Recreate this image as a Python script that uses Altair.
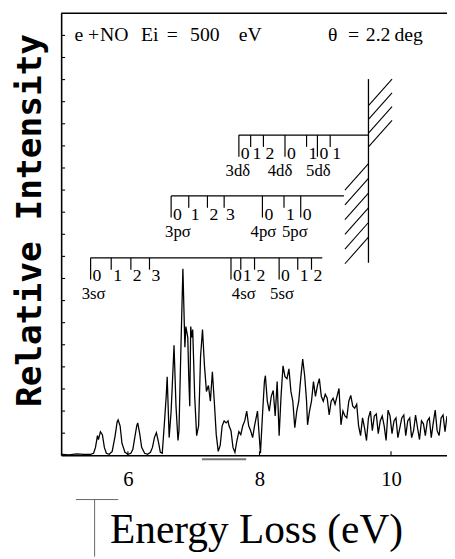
import altair as alt
import pandas as pd

# ---------------- data ----------------
energy = [
    5.000, 5.104, 5.224, 5.328, 5.433, 5.478, 5.507, 5.537, 5.552, 5.582,
    5.612, 5.642, 5.672, 5.716, 5.761, 5.806, 5.836, 5.851, 5.881, 5.910,
    5.955, 6.000, 6.045, 6.075, 6.104, 6.134, 6.149, 6.179, 6.209, 6.254,
    6.299, 6.343, 6.373, 6.403, 6.433, 6.463, 6.493, 6.522, 6.552, 6.582,
    6.597, 6.627, 6.657, 6.687, 6.701, 6.731, 6.761, 6.776, 6.806, 6.836,
    6.851, 6.866, 6.881, 6.910, 6.925, 6.940, 6.955, 6.970, 6.985, 7.015,
    7.045, 7.075, 7.104, 7.134, 7.164, 7.194, 7.224, 7.254, 7.284, 7.313,
    7.343, 7.373, 7.403, 7.433, 7.463, 7.493, 7.522, 7.537, 7.567, 7.597,
    7.627, 7.657, 7.687, 7.716, 7.746, 7.776, 7.806, 7.836, 7.866, 7.896,
    7.925, 7.970, 7.985, 8.015, 8.045, 8.075, 8.090, 8.119, 8.149, 8.179,
    8.209, 8.239, 8.269, 8.299, 8.328, 8.358, 8.388, 8.418, 8.448, 8.478,
    8.507, 8.537, 8.567, 8.597, 8.627, 8.657, 8.687, 8.716, 8.731, 8.761,
    8.791, 8.821, 8.851, 8.881, 8.910, 8.940, 8.970, 9.000, 9.030, 9.060,
    9.090, 9.119, 9.149, 9.179, 9.209, 9.239, 9.269, 9.299, 9.328, 9.358,
    9.388, 9.418, 9.448, 9.478, 9.507, 9.537, 9.567, 9.597, 9.627, 9.657,
    9.687, 9.716, 9.746, 9.776, 9.806, 9.836, 9.866, 9.896, 9.925, 9.955,
    9.985, 10.015, 10.045, 10.075, 10.104, 10.134, 10.164, 10.194, 10.224, 10.254,
    10.284, 10.313, 10.343, 10.373, 10.403, 10.433, 10.463, 10.493, 10.522, 10.552,
    10.582, 10.612, 10.642, 10.672, 10.701, 10.731, 10.761, 10.791, 10.821, 10.851,
]
intensity = [
    1, 0.5, 1.5, 1, 1, 2, 8, 20, 16, 24,
    21, 8, 2, 1, 4, 20, 34, 36, 30, 12,
    3, 1, 2, 6, 18, 30, 33, 22, 8, 2,
    1, 3, 8, 18, 23, 14, 3, 2, 30, 60,
    80, 18, 45, 90, 112, 50, 15, 25, 110, 190,
    150, 110, 131, 120, 80, 50, 131, 120, 128, 60,
    20, 30, 100, 128, 91, 65, 71, 55, 85, 55,
    21, 4, 10, 30, 35, 33, 35, 30, 25, 8,
    3, 15, 24, 21, 30, 35, 45, 30, 25, 18,
    30, 45, 30, 2, 40, 75, 81, 55, 45, 60,
    66, 40, 75, 20, 60, 91, 80, 78, 88, 65,
    55, 28, 45, 55, 78, 98, 81, 55, 31, 45,
    55, 75, 60, 71, 78, 60, 55, 62, 58, 41,
    55, 58, 52, 60, 68, 31, 45, 40, 38, 55,
    61, 50, 48, 52, 30, 20, 38, 28, 15, 38,
    45, 25, 40, 42, 22, 35, 40, 30, 15, 46,
    40, 22, 35, 38, 18, 28, 38, 41, 20, 35,
    38, 18, 25, 41, 28, 16, 35, 32, 20, 35,
    38, 18, 33, 46, 25, 20, 38, 41, 24, 40,
]

x_tick_values = [6, 8, 10]
x_minor_ticks = [6, 8, 10]
y_tick_values = [22.5, 45, 67.5, 90, 112.5, 135, 157.5, 180, 202.5, 225,
                 247.5, 270, 292.5, 315, 337.5, 360, 382.5, 405, 427.5]

# Rydberg series brackets
row_names = ["s", "p", "d"]
row_level = [201, 264, 326]
row_start = [5.433, 6.657, 7.687]
row_end = [8.955, 9.284, 9.657]

series_names = ["3sσ", "4sσ", "5sσ", "3pσ", "4pσ", "5pσ", "3dδ", "4dδ", "5dδ"]
series_row = ["s", "s", "s", "p", "p", "p", "d", "d", "d"]
series_label_E = [5.478, 7.761, 8.343, 6.761, 8.060, 8.537, 7.672, 8.313, 8.896]

vib_series = ["3sσ"] * 4 + ["4sσ"] * 3 + ["5sσ"] * 3 + ["3pσ"] * 4 + ["4pσ"] * 2 + ["5pσ"] \
    + ["3dδ"] * 3 + ["4dδ"] * 2 + ["5dδ"] * 2
vib_v = [0, 1, 2, 3, 0, 1, 2, 0, 1, 2, 0, 1, 2, 3, 0, 1, 0, 0, 1, 2, 0, 1, 0, 1]
vib_E = [5.433, 5.746, 6.045, 6.328, 7.567, 7.716, 7.925, 8.299, 8.582, 8.791,
         6.657, 6.925, 7.209, 7.463, 8.045, 8.373, 8.627,
         7.687, 7.866, 8.060, 8.388, 8.716, 8.881, 9.075]

# ionization limit wall
WALL_E = 9.657
WALL_TOP = 383
WALL_BOTTOM = 196

header_tokens = ["e", "+", "NO", "Ei", "=", "500", "eV", "θ", "=", "2.2", "deg"]
header_px = [18, 33, 54, 90, 113, 146, 192, 276, 297, 322, 353]

# ---------------- layout / style ----------------
W, H = 392, 449
LONG, SHORT = 22, 12
xs = alt.Scale(domain=[4.985, 10.851], nice=False, zero=False)
ys = alt.Scale(domain=[0, 450], nice=False, zero=False)
SERIF = "Liberation Serif, serif"

spec_df = pd.DataFrame({"E": energy, "I": intensity})

line = alt.Chart(spec_df).mark_line(color="black", strokeWidth=1.3, clip=True).encode(
    x=alt.X("E:Q", scale=xs, axis=alt.Axis(
        values=x_tick_values, format="d", title="Energy Loss (eV)",
        titleFont=SERIF, titleFontSize=42, titleFontWeight="normal",
        titleColor="black", titleX=198, titleY=89, titleBaseline="alphabetic",
        titleAlign="center",
        labelFont=SERIF, labelFontSize=21, labelColor="black",
        labelPadding=14, labelFlush=False, ticks=False, tickSize=0,
        domainColor="black", domainWidth=1.6, grid=False)),
    y=alt.Y("I:Q", scale=ys, axis=alt.Axis(
        title="Relative Intensity", labels=False, ticks=False, tickSize=0,
        grid=False, domainColor="black", domainWidth=1.6,
        titleFont="DejaVu Sans Mono, Liberation Mono, monospace", titleFontSize=35,
        titleFontWeight="bold",
        titleColor="black", titleAngle=270, titleX=-21, titleY=210,
        titleBaseline="alphabetic", titleAlign="center")),
)

level_of = dict(zip(row_names, row_level))
rows_df = pd.DataFrame({"row": row_names, "level": row_level,
                        "start": row_start, "end": row_end})
rows = alt.Chart(rows_df).mark_rule(color="black", strokeWidth=1.3).encode(
    x=alt.X("start:Q", scale=xs), x2="end:Q",
    y=alt.Y("level:Q", scale=ys))

ser_row = dict(zip(series_names, series_row))
vib_df = pd.DataFrame({"series": vib_series, "v": vib_v, "E": vib_E})
vib_df["level"] = [level_of[ser_row[s]] for s in vib_df["series"]]
vib_df["bot"] = vib_df["level"] - [LONG if v == 0 else SHORT for v in vib_df["v"]]
vib_df["lab_y"] = vib_df["level"] - 19
vib_df["txt"] = vib_df["v"].astype(str)

ticks = alt.Chart(vib_df).mark_rule(color="black", strokeWidth=1.2).encode(
    x=alt.X("E:Q", scale=xs),
    y=alt.Y("level:Q", scale=ys), y2="bot:Q")
digits = alt.Chart(vib_df).mark_text(
    align="left", baseline="middle", dx=2, font=SERIF, fontSize=18, color="black").encode(
    x=alt.X("E:Q", scale=xs),
    y=alt.Y("lab_y:Q", scale=ys), text="txt:N")

lab_df = pd.DataFrame({"name": series_names, "E": series_label_E})
lab_df["y"] = [level_of[ser_row[s]] - 37 for s in series_names]
labels = alt.Chart(lab_df).mark_text(
    align="center", baseline="middle", font=SERIF, fontSize=17, color="black").encode(
    x=alt.X("E:Q", scale=xs),
    y=alt.Y("y:Q", scale=ys), text="name:N")

wall_df = pd.DataFrame({"E": [WALL_E], "top": [WALL_TOP], "bottom": [WALL_BOTTOM]})
wall = alt.Chart(wall_df).mark_rule(color="black", strokeWidth=1.3).encode(
    x=alt.X("E:Q", scale=xs),
    y=alt.Y("top:Q", scale=ys), y2="bottom:Q")

# hatching of the wall (decoration)
dE_h = 24 / 67.0
hatch_rows = []
for s in range(4):
    y0 = WALL_TOP - 27 - 14 * s
    hatch_rows.append({"x1": WALL_E, "y1": y0, "x2": WALL_E + dE_h, "y2": y0 + 27})
for s in range(6):
    y0 = 270 - 15 * s
    hatch_rows.append({"x1": WALL_E - dE_h, "y1": y0, "x2": WALL_E, "y2": y0 + 27})
hatch_df = pd.DataFrame(hatch_rows)
hatch = alt.Chart(hatch_df).mark_rule(color="black", strokeWidth=1.1).encode(
    x=alt.X("x1:Q", scale=xs), x2="x2:Q",
    y=alt.Y("y1:Q", scale=ys), y2="y2:Q")

one = pd.DataFrame({"k": [0]})

ytk = alt.Chart(pd.DataFrame({"t": y_tick_values})).mark_rule(
    color="black", strokeWidth=1.1).encode(
    y=alt.Y("t:Q", scale=ys), x=alt.value(0), x2=alt.value(4))
xtk = alt.Chart(pd.DataFrame({"t": x_minor_ticks})).mark_rule(
    color="black", strokeWidth=1.1).encode(
    x=alt.X("t:Q", scale=xs), y=alt.value(H), y2=alt.value(H - 4))

topline = alt.Chart(one).mark_rule(color="black", strokeWidth=1.6).encode(
    x=alt.value(0), x2=alt.value(W), y=alt.value(0))

header_layers = [
    alt.Chart(one).mark_text(align="center", baseline="alphabetic", font=SERIF,
                             fontSize=20, color="black").encode(
        x=alt.value(px), y=alt.value(28), text=alt.value(tok))
    for tok, px in zip(header_tokens, header_px)
]

# scan artefacts visible in the reference
bar = alt.Chart(one).mark_rule(color="#777777", strokeWidth=2).encode(
    x=alt.value(143), x2=alt.value(188), y=alt.value(453))
art1 = alt.Chart(one).mark_rule(color="#666666", strokeWidth=1).encode(
    x=alt.value(15), x2=alt.value(58), y=alt.value(494))
art2 = alt.Chart(one).mark_rule(color="#666666", strokeWidth=1).encode(
    x=alt.value(34), y=alt.value(494), y2=alt.value(552))

chart = alt.layer(
    line, rows, ticks, digits, labels, wall, hatch, ytk, xtk, topline,
    *header_layers, bar, art1, art2
).properties(
    width=W, height=H,
    padding={"left": 54, "top": 1, "right": 0, "bottom": 101},
    autosize=alt.AutoSizeParams(type="none"),
).configure_view(strokeWidth=0)

chart.save("out.html", embed_options={"renderer": "svg", "actions": False})
